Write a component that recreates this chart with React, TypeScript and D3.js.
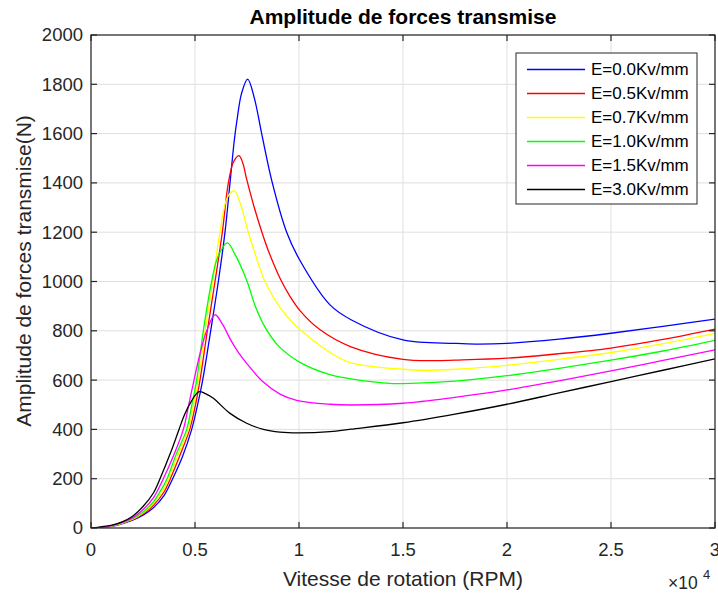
import React from "react";
import * as d3 from "d3";

const xTickValues = [0, 5000, 10000, 15000, 20000, 25000, 30000];
const xTickLabels = ["0", "0.5", "1", "1.5", "2", "2.5", "3"];
const yTickValues = [0, 200, 400, 600, 800, 1000, 1200, 1400, 1600, 1800, 2000];
const yTickLabels = ["0", "200", "400", "600", "800", "1000", "1200", "1400", "1600", "1800", "2000"];

const seriesNames = ["E=0.0Kv/mm", "E=0.5Kv/mm", "E=0.7Kv/mm", "E=1.0Kv/mm", "E=1.5Kv/mm", "E=3.0Kv/mm"];
const seriesColors = ["#0000ff", "#ff0000", "#ffff00", "#00ff00", "#ff00ff", "#000000"];

const e00: [number, number][] = [
  [0, 0], [1000, 7], [2000, 32], [2500, 52], [3000, 82], [3500, 130], [3927, 200], [4400, 290], [4841, 400],
  [5100, 490], [5369, 600], [5754, 800], [6122, 1000], [6442, 1200], [6683, 1400], [6891, 1574], [7003, 1645],
  [7244, 1765], [7532, 1821], [7850, 1745], [8205, 1600], [8718, 1400], [9407, 1200], [10048, 1085],
  [11490, 905], [12500, 845], [15000, 763], [17500, 749], [18500, 746],
  [20000, 749], [22500, 766], [25000, 790], [27500, 818], [30000, 847],
];
const e05: [number, number][] = [
  [0, 0], [1000, 8], [2000, 34], [2500, 57], [3000, 92], [3500, 145], [3815, 200], [4300, 300], [4745, 400],
  [5000, 490], [5240, 600], [5593, 800], [5962, 1000], [6314, 1200], [6603, 1400], [6850, 1485], [7115, 1511],
  [7300, 1480], [7484, 1415], [7850, 1300], [8237, 1195], [8526, 1125], [9135, 1005], [9567, 940],
  [10048, 882], [11000, 805], [12500, 735], [15000, 684], [16500, 679], [17500, 681], [20000, 689],
  [22500, 707], [25000, 730], [27500, 765], [30000, 807],
];
const e07: [number, number][] = [
  [0, 0], [1000, 8], [2000, 36], [2500, 61], [3000, 99], [3500, 158], [3735, 200], [4200, 300], [4680, 400],
  [4930, 500], [5160, 600], [5481, 800], [5849, 1000], [6202, 1200], [6550, 1340], [6891, 1368], [7200, 1310],
  [7564, 1200], [7900, 1110], [8365, 1000], [9087, 895], [9567, 845], [10048, 805], [11490, 712],
  [12500, 670], [15000, 644], [16000, 640], [17500, 644], [20000, 660], [22500, 684], [25000, 712],
  [27500, 748], [30000, 790],
];
const e10: [number, number][] = [
  [0, 0], [1000, 9], [2000, 38], [2500, 65], [3000, 106], [3300, 145], [3655, 200], [4100, 300], [4600, 400],
  [4850, 500], [5080, 600], [5401, 800], [5801, 1000], [6100, 1100], [6554, 1157], [6923, 1110], [7484, 1005],
  [7900, 900], [8365, 815], [9000, 740], [10048, 672], [11490, 622], [12500, 605], [14500, 586],
  [15000, 586], [17500, 596], [20000, 618], [22500, 648], [25000, 681], [27500, 718], [30000, 761],
];
const e15: [number, number][] = [
  [0, 0], [1000, 10], [2000, 42], [2500, 74], [3000, 122], [3478, 200], [4000, 300], [4440, 400], [4700, 500],
  [4952, 600], [5250, 710], [5561, 800], [5962, 865], [6300, 830], [6700, 765], [7100, 710], [7484, 668],
  [8285, 592], [9087, 543], [9888, 518], [11490, 502], [12500, 499], [15000, 506], [17500, 530], [20000, 560],
  [22500, 597], [25000, 637], [27500, 680], [30000, 723],
];
const e30: [number, number][] = [
  [0, 0], [1000, 12], [1500, 25], [2000, 48], [2500, 87], [3000, 142], [3318, 200], [3847, 310], [4232, 400],
  [4500, 460], [4809, 512], [5192, 553], [5500, 545], [5881, 526], [6683, 465], [7484, 425], [8285, 400],
  [9087, 389], [9968, 386], [11490, 391], [12500, 401], [15000, 427], [17500, 462], [20000, 502], [22500, 548],
  [25000, 594], [27500, 640], [30000, 686],
];
const seriesData = [e00, e05, e07, e10, e15, e30];

const W = 718;
const H = 594;
const L = 91, R = 715, T = 35, B = 528;
const axisColor = "#262626";
const gridColor = "#dfdfdf";
const font = "'Liberation Sans', Arial, Helvetica, sans-serif";

export default function App() {
  const x = d3.scaleLinear().domain([0, 30000]).range([L, R]);
  const y = d3.scaleLinear().domain([0, 2000]).range([B, T]);
  const line = d3
    .line<[number, number]>()
    .x((d) => x(d[0]))
    .y((d) => y(d[1]))
    .curve(d3.curveCatmullRom.alpha(0.5));
  const tick = 6;

  const legX = 516, legY = 53, legW = 181, legH = 151, rowH = 24;

  return (
    <svg width={W} height={H} style={{ position: "absolute", left: 0, top: 0, background: "#fff" }} fontFamily={font}>
      <rect x={0} y={0} width={W} height={H} fill="#ffffff" />
      <defs>
        <clipPath id="plotclip">
          <rect x={L} y={T} width={R - L} height={B - T} />
        </clipPath>
      </defs>
      {xTickValues.map((v, i) => (
        <line key={"gx" + i} x1={x(v)} x2={x(v)} y1={T} y2={B} stroke={gridColor} strokeWidth={1} />
      ))}
      {yTickValues.map((v, i) => (
        <line key={"gy" + i} x1={L} x2={R} y1={y(v)} y2={y(v)} stroke={gridColor} strokeWidth={1} />
      ))}
      <g clipPath="url(#plotclip)">
        {seriesData.map((d, i) => (
          <path key={"s" + i} d={line(d) || ""} fill="none" stroke={seriesColors[i]} strokeWidth={1.3} />
        ))}
      </g>
      <rect x={L} y={T} width={R - L} height={B - T} fill="none" stroke={axisColor} strokeWidth={1.2} />
      {xTickValues.map((v, i) => (
        <g key={"xt" + i}>
          <line x1={x(v)} x2={x(v)} y1={B} y2={B - tick} stroke={axisColor} strokeWidth={1.2} />
          <line x1={x(v)} x2={x(v)} y1={T} y2={T + tick} stroke={axisColor} strokeWidth={1.2} />
          <text x={x(v)} y={556} textAnchor="middle" fontSize={18.5} fill={axisColor}>
            {xTickLabels[i]}
          </text>
        </g>
      ))}
      {yTickValues.map((v, i) => (
        <g key={"yt" + i}>
          <line x1={L} x2={L + tick} y1={y(v)} y2={y(v)} stroke={axisColor} strokeWidth={1.2} />
          <line x1={R} x2={R - tick} y1={y(v)} y2={y(v)} stroke={axisColor} strokeWidth={1.2} />
          <text x={83} y={y(v)} dy="0.35em" textAnchor="end" fontSize={18.5} fill={axisColor}>
            {yTickLabels[i]}
          </text>
        </g>
      ))}
      <text x={668} y={589} fontSize={17.5} fill={axisColor}>
        ×10
      </text>
      <text x={703} y={579} fontSize={13} fill={axisColor}>
        4
      </text>
      <text x={(L + R) / 2} y={24} textAnchor="middle" fontSize={21} fontWeight="bold" fill="#000">
        Amplitude de forces transmise
      </text>
      <text x={(L + R) / 2} y={586} textAnchor="middle" fontSize={21} fill={axisColor}>
        Vitesse de rotation (RPM)
      </text>
      <text transform={`translate(31,${271}) rotate(-90)`} textAnchor="middle" fontSize={21} fill={axisColor}>
        Amplitude de forces transmise(N)
      </text>
      <rect x={legX} y={legY} width={legW} height={legH} fill="#ffffff" stroke={axisColor} strokeWidth={1} />
      {seriesNames.map((n, i) => {
        const cy = legY + 16.5 + i * rowH;
        return (
          <g key={"lg" + i}>
            <line x1={527} x2={585} y1={cy} y2={cy} stroke={seriesColors[i]} strokeWidth={1.3} />
            <text x={591} y={cy} dy="0.35em" fontSize={17} fill="#000">
              {n}
            </text>
          </g>
        );
      })}
    </svg>
  );
}
